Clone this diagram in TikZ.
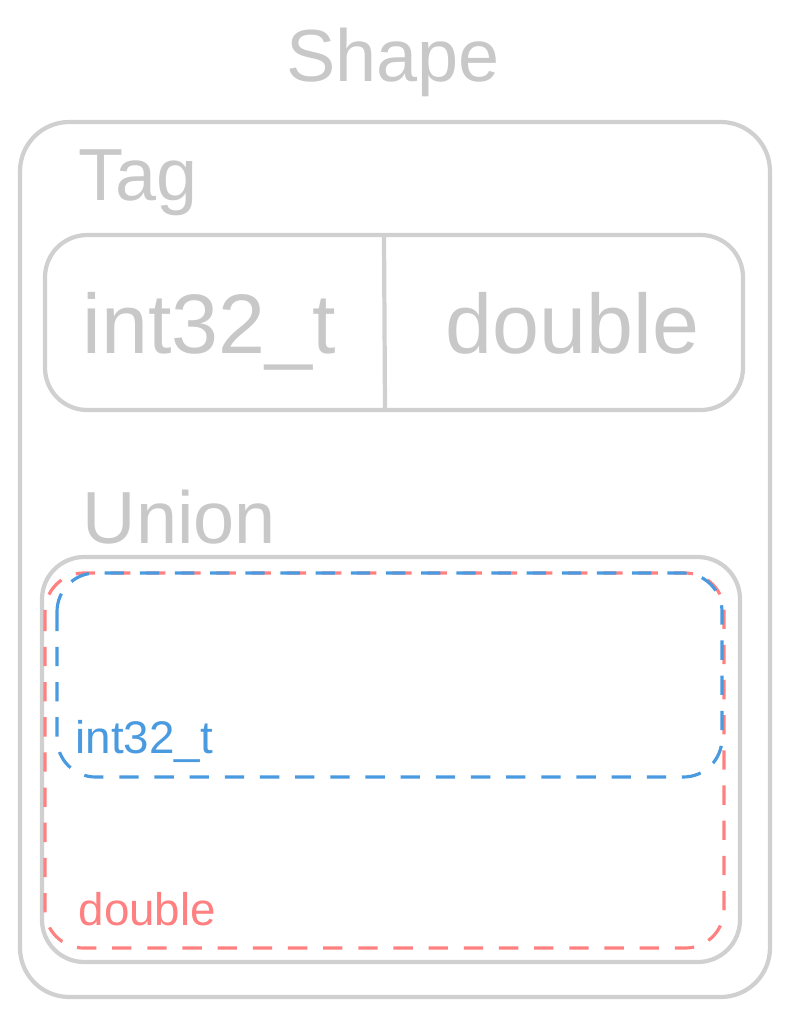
\documentclass[tikz,border=0pt]{standalone}
\usepackage{fontspec}
\setmainfont{Liberation Sans}
\definecolor{shapegray}{HTML}{D0D0D0}
\definecolor{textgray}{HTML}{C8C8C8}
\definecolor{intblue}{HTML}{4A9AE0}
\definecolor{dblred}{HTML}{FF8080}
\tikzset{
  box/.style={draw=shapegray, line width=1.2pt, rounded corners=14pt},
  member/.style={line width=0.9pt, dash pattern=on 5.5pt off 4.5pt, rounded corners=11pt},
  bigtext/.style={text=textgray, font=\fontsize{21}{24}\selectfont, inner sep=0pt},
  smalltext/.style={font=\fontsize{13}{15}\selectfont, inner sep=0pt}
}
\begin{document}
\begin{tikzpicture}[x=0.01cm, y=-0.01cm]
	\useasboundingbox (0,0) rectangle (788,1015);
	% Shape
	\node[bigtext] (shape) at (393,62) {Shape};
	\draw[box] (20,122) rectangle (770,997);
	% Tag
	\node[bigtext, anchor=base west] (tag) at (78,200) {Tag};
	\draw[box, rounded corners=12pt] (45,235) rectangle (743,410);
	\draw[draw=shapegray, line width=1.2pt] (384,237) -- (385,408);
	\node[bigtext, anchor=base west, font=\fontsize{24}{28}\selectfont] (tagint) at (82,353) {int32\_t};
	\node[bigtext, anchor=base west, font=\fontsize{24}{28}\selectfont] (tagdbl) at (445,353) {double};
	% Union
	\node[bigtext, anchor=base west] (union) at (82,543) {Union};
	\draw[box, rounded corners=12pt] (42,557) rectangle (740,962);
	\draw[member, draw=dblred] (45,573) rectangle (724,948);
	\draw[member, draw=intblue] (57,573) rectangle (722,777);
	\node[smalltext, text=intblue, anchor=base west] (uint) at (75,753) {int32\_t};
	\node[smalltext, text=dblred, anchor=base west] (udbl) at (78,925) {double};
\end{tikzpicture}
\end{document}
